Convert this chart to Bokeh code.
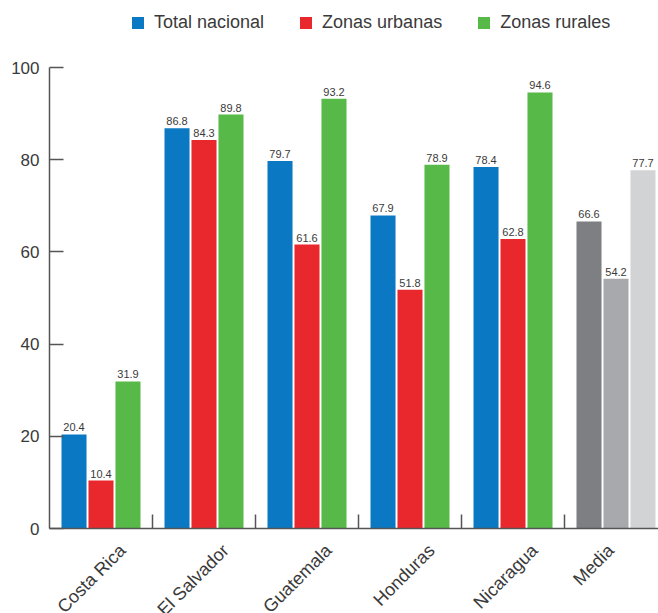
import math
from bokeh.plotting import figure
from bokeh.layouts import column
from bokeh.models import (Range1d, FixedTicker, ColumnDataSource, Legend, LegendItem)
from bokeh.core.properties import value
from bokeh.embed import file_html
from bokeh.resources import INLINE

# ---- data ----
categories = ["Costa Rica", "El Salvador", "Guatemala", "Honduras", "Nicaragua", "Media"]
series_names = ["Total nacional", "Zonas urbanas", "Zonas rurales"]
total_nacional = [20.4, 86.8, 79.7, 67.9, 78.4, 66.6]
zonas_urbanas = [10.4, 84.3, 61.6, 51.8, 62.8, 54.2]
zonas_rurales = [31.9, 89.8, 93.2, 78.9, 94.6, 77.7]
y_ticks = [0, 20, 40, 60, 80, 100]

series_values = [total_nacional, zonas_urbanas, zonas_rurales]
series_colors = ["#0a78c2", "#e8282c", "#57b947"]
media_colors = ["#7e7f83", "#a8a9ac", "#d2d3d5"]

FONT = "Liberation Sans"
TXT = "#3a3a3a"
AXC = "#555555"

W, H = 658, 613
legend_h = 55
left, top_pad, bot_pad = 49, 12, 12
frame_w, frame_h = W - left, 461
label_h = H - legend_h - top_pad - frame_h - bot_pad
cat_px = 103.0
x_end = frame_w / cat_px
n = len(categories)
# horizontal shift of each rotated category label (in category units)
label_shift = [0.21] * (n - 1) + [-0.05]

# ---- legend strip ----
pl = figure(width=W, height=legend_h, output_backend="svg", toolbar_location=None,
            x_range=Range1d(0, 1), y_range=Range1d(0, 1), tools="",
            x_axis_location=None, y_axis_location=None, min_border=0)
pl.grid.visible = False
pl.outline_line_color = None
leg_rs = [pl.vbar(x=[-10], top=[0], width=1, fill_color=c, line_color=None)
          for c in series_colors]
legend = Legend(items=[LegendItem(label=nm, renderers=[r])
                       for nm, r in zip(series_names, leg_rs)],
                orientation="horizontal", location=(81, 22),
                label_text_font=FONT, label_text_font_size="18px",
                label_text_color=TXT, glyph_width=15, glyph_height=15,
                label_standoff=9, spacing=34, padding=0, margin=0,
                border_line_color=None, background_fill_alpha=0)
pl.add_layout(legend, "center")

# ---- main chart ----
p = figure(frame_width=frame_w, frame_height=frame_h, output_backend="svg",
           toolbar_location=None, x_range=Range1d(0, x_end), y_range=Range1d(0, 100),
           min_border_left=left, min_border_right=0, min_border_top=top_pad,
           min_border_bottom=bot_pad, tools="")
p.outline_line_color = None
p.grid.visible = False

offsets = [-0.262, 0.0, 0.262]
bar_w = 0.243
for s, (vals, col, off) in enumerate(zip(series_values, series_colors, offsets)):
    xs = [i + 0.5 + off for i in range(n)]
    colors = [col] * (n - 1) + [media_colors[s]]
    src = ColumnDataSource(dict(x=xs, top=vals, color=colors,
                                label=[f"{v:.1f}" for v in vals]))
    p.vbar(x="x", top="top", bottom=0, width=bar_w, source=src,
           fill_color="color", line_color=None)
    p.text(x="x", y="top", text="label", source=src, text_align="center",
           text_baseline="bottom", y_offset=-3, text_font=value(FONT),
           text_font_size="11px", text_color=TXT)

# y axis
ya = p.yaxis[0]
ya.ticker = FixedTicker(ticks=y_ticks)
ya.major_tick_in = 14
ya.major_tick_out = 0
ya.minor_tick_line_color = None
ya.axis_line_color = AXC
ya.axis_line_width = 1.5
ya.major_tick_line_color = AXC
ya.major_tick_line_width = 1.5
ya.major_label_text_font = FONT
ya.major_label_text_font_size = "17px"
ya.major_label_text_color = TXT
ya.major_label_standoff = 10

# x axis (line + group separators only; names drawn below)
xa = p.xaxis[0]
xa.ticker = FixedTicker(ticks=[], minor_ticks=[i for i in range(1, n)])
xa.major_tick_in = 0
xa.major_tick_out = 0
xa.minor_tick_in = 14
xa.minor_tick_out = 0
xa.minor_tick_line_color = AXC
xa.minor_tick_line_width = 1.5
xa.axis_line_color = AXC
xa.axis_line_width = 1.5
xa.major_label_standoff = 0
xa.major_label_text_font_size = "0px"

# ---- rotated category names ----
pb = figure(width=W, height=label_h, output_backend="svg", toolbar_location=None,
            x_range=p.x_range, y_range=Range1d(-label_h, 0), tools="",
            x_axis_location=None, y_axis_location=None,
            min_border_left=left, min_border_right=0, min_border_top=0,
            min_border_bottom=0)
pb.grid.visible = False
pb.outline_line_color = None
lsrc = ColumnDataSource(dict(x=[i + 0.5 + label_shift[i] for i in range(n)],
                             y=[0] * n, name=categories))
pb.text(x="x", y="y", text="name", source=lsrc, angle=math.pi / 4,
        text_align="right", text_baseline="middle", y_offset=19 - bot_pad,
        text_font=value(FONT), text_font_size="18px", text_color=TXT)

layout = column(pl, p, pb, spacing=0)
open("out.html", "w").write(file_html(layout, INLINE))
